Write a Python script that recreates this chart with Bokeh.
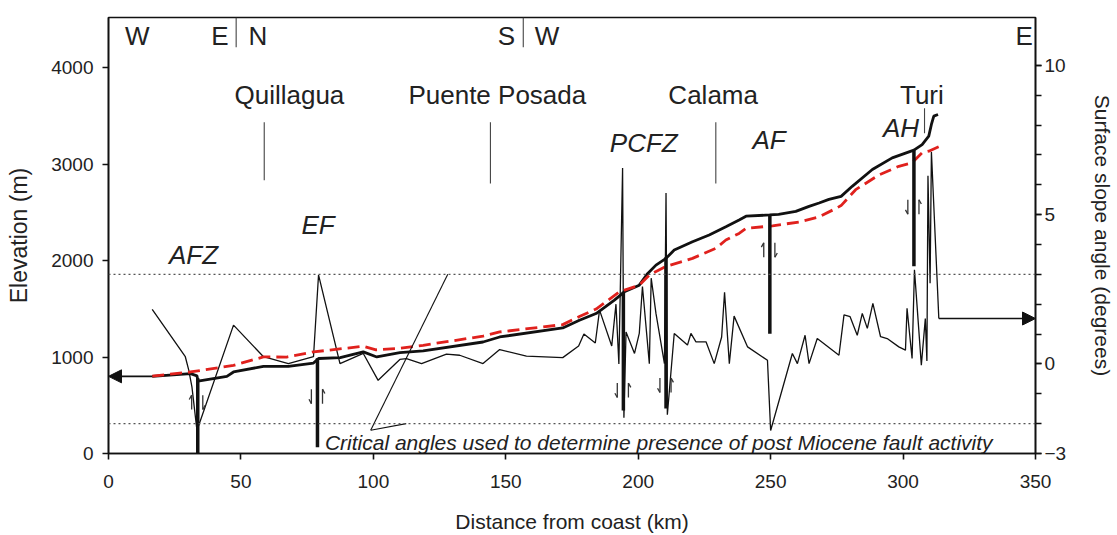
from bokeh.plotting import figure
from bokeh.models import Range1d, LinearAxis, FixedTicker, Span, Arrow, NormalHead
from bokeh.core.properties import value
from bokeh.embed import file_html
from bokeh.resources import INLINE

FONT = "Liberation Sans"

# ---------------- data ----------------
# elevation profile (black, left axis)
dist_elev = [16.5, 31.0, 33.4, 33.8, 44.7, 47.2, 58.5, 67.9, 77.4, 79.3, 87.5, 96.2, 101.3,
             110.0, 118.8, 141.4, 147.7, 171.5, 177.8, 184.1, 191.0, 194.8, 200.4, 203.6,
             206.7, 210.5, 213.6, 220.5, 226.8, 233.1, 238.1, 240.7, 249.6, 253.0, 259.5,
             264.5, 268.3, 272.0, 276.6, 280.8, 288.4, 295.9, 304.1, 307.2, 309.7, 310.7,
             311.6, 313.2]
elev = [800, 828, 805, 750, 800, 845, 904, 904, 938, 985, 994, 1053, 1001,
        1045, 1063, 1156, 1208, 1302, 1382, 1451, 1590, 1676, 1745, 1867,
        1953, 2023, 2109, 2195, 2265, 2351, 2421, 2460, 2473, 2480, 2510,
        2562, 2597, 2634, 2666, 2770, 2944, 3065, 3145, 3203, 3290, 3411,
        3498, 3515]

# smoothed profile (red dashed, left axis)
dist_smooth = [16.5, 30.9, 47.2, 58.5, 67.3, 77.4, 96.2, 101.0, 110.0, 118.8, 141.4, 147.7,
               171.5, 177.8, 184.1, 192.9, 200.4, 204.2, 210.5, 220.5, 229.3, 233.1, 238.1,
               240.7, 250.7, 260.7, 268.0, 274.6, 276.6, 282.1, 290.9, 298.4, 303.4, 307.2,
               309.7, 313.5]
elev_smooth = [803, 845, 914, 1001, 1000, 1053, 1112, 1075, 1090, 1122, 1216, 1260,
               1336, 1420, 1498, 1676, 1745, 1850, 1940, 2023, 2127, 2213, 2282,
               2334, 2360, 2400, 2450, 2540, 2570, 2735, 2888, 2977, 3014, 3117,
               3134, 3180]

# surface slope angle (thin black, right axis)
dist_slope = [16.5, 29.0, 30.3, 31.5, 33.4, 47.2, 58.5, 67.9, 77.4, 79.3, 87.4, 96.2, 101.8,
              110.0, 112.5, 118.2, 127.6, 132.6, 141.4, 147.7, 157.8, 171.5, 177.5, 179.5,
              183.8, 185.4, 190.0, 191.6, 192.7, 194.1, 194.6, 195.4, 198.6, 200.4, 201.6,
              204.2, 204.9, 206.7, 209.9, 210.5, 211.0, 213.6, 218.6, 219.9, 221.8, 225.6,
              228.7, 231.5, 232.6, 234.4, 236.2, 241.3, 248.8, 250.0, 258.2, 260.1, 263.0,
              264.5, 267.6, 275.8, 277.7, 280.0, 282.7, 284.6, 286.5, 288.6, 291.5, 294.0,
              298.4, 300.9, 301.5, 303.4, 304.3, 306.9, 308.4, 309.0, 309.4, 310.2, 310.7,
              313.5]
slope_deg = [1.83, 0.24, -0.21, -0.77, -2.23, 1.30, 0.24, 0.01, 0.24, 2.98, 0.01, 0.35, -0.55,
             0.15, 0.18, 0.01, 0.33, 0.29, 0.01, 0.48, 0.26, 0.21, 0.60, 1.00,
             0.70, 1.80, 0.60, 2.00, 0.00, 6.56, -1.80, 1.07, 0.35, 1.02, 2.59,
             0.01, 2.87, 1.69, 0.01, 5.72, -1.70, 1.02, 0.63, 1.02, 0.74, 0.74,
             0.01, 0.90, 2.40, 0.01, 1.60, 0.57, 0.12, -2.23, 0.35, 0.01, 0.96,
             0.01, 0.85, 0.29, 1.64, 1.58, 0.96, 1.69, 1.19, 2.03, 0.91, 0.85,
             0.57, 0.46, 1.86, 0.18, 3.15, -0.04, 1.52, 0.10, 6.30, 2.70, 7.10,
             1.52]

# faults
fault_names = ["AFZ", "EF", "PCFZ", "AF", "AH"]
fault_label_km = [32.1, 79.1, 202.1, 249.4, 299.2]
fault_label_elev = [2054, 2365, 3216, 3247, 3371]
fault_km = [33.7, 78.9, 194.4, 210.5, 249.7, 304.1]
fault_top = [780, 987, 1676, 2035, 2473, 3145]
fault_bottom = [0, 66, 447, 467, 1241, 1940]
fault_arrow_elev = [530, 592, 655, 707, 2109, 2556]
fault_left_up = [True, False, False, False, True, False]

# localities
places = ["Quillagua", "Puente Posada", "Calama", "Turi"]
place_label_km = [68.3, 146.8, 228.3, 307.1]
place_line_km = [58.8, 144.2, 229.3, 308.1]
place_line_top = [3434, 3434, 3434, 3580]
place_line_bottom = [2832, 2800, 2800, 3320]
place_label_elev = 3714

# direction letters along the top
dir_letters = ["W", "E", "N", "S", "W", "E"]
dir_km = [10.9, 42.1, 56.4, 150.2, 165.6, 345.7]
dir_elev = 4326
dir_sep_km = [48.2, 156.6]
dir_sep_top = 4520
dir_sep_bottom = 4212

# critical angles (degrees) and the callout
crit_angles = [3, -2]
callout_vertex = (99.0, -2.22)
callout_ends_km = [128.1, 112.4]
callout_text = "Critical angles used to determine presence of post Miocene fault activity"
callout_text_pos = (81.7, -2.62)

# axis arrows (series -> its axis)
elev_arrow = (16.5, 0.0, 800)      # from km, to km, elevation
slope_arrow = (313.5, 350.0, 1.52)  # from km, to km, degrees

x_ticks = [0, 50, 100, 150, 200, 250, 300, 350]
elev_ticks = [0, 1000, 2000, 3000, 4000]
slope_major = [-3, 0, 5, 10]
slope_minor = list(range(-3, 11))

# ---------------- figure ----------------
p = figure(width=1117, height=535, x_range=Range1d(0, 350), y_range=Range1d(0, 4520),
           output_backend="svg", toolbar_location=None,
           min_border_left=108, min_border_right=79, min_border_top=17, min_border_bottom=82,
           background_fill_color="white", border_fill_color="white")
p.extra_y_ranges = {"slope": Range1d(-3, 11.6)}
p.xgrid.visible = False
p.ygrid.visible = False
p.outline_line_color = "#111111"
p.outline_line_width = 1.6


def style_axis(ax, label_size):
    ax.axis_line_color = "#111111"
    ax.axis_line_width = 1.6
    ax.major_tick_line_color = "#111111"
    ax.major_tick_line_width = 1.6
    ax.major_tick_out = 6
    ax.major_tick_in = 0
    ax.minor_tick_line_color = None
    ax.major_label_text_font = FONT
    ax.major_label_text_font_size = "19px"
    ax.major_label_text_color = "#222222"
    ax.axis_label_text_font = FONT
    ax.axis_label_text_font_size = label_size
    ax.axis_label_text_font_style = "normal"
    ax.axis_label_text_color = "#222222"


xa = p.xaxis[0]
style_axis(xa, "21px")
xa.ticker = FixedTicker(ticks=x_ticks)
xa.axis_label = "Distance from coast (km)"
xa.major_label_standoff = 15
xa.axis_label_standoff = 19

ya = p.yaxis[0]
style_axis(ya, "23px")
ya.ticker = FixedTicker(ticks=elev_ticks)
ya.axis_label = "Elevation (m)"
ya.major_label_standoff = 9
ya.axis_label_standoff = 16

ra = LinearAxis(y_range_name="slope")
style_axis(ra, "21px")
ra.ticker = FixedTicker(ticks=slope_major, minor_ticks=slope_minor)
ra.minor_tick_line_color = "#111111"
ra.minor_tick_line_width = 1.6
ra.minor_tick_out = 6
ra.minor_tick_in = 0
ra.axis_label = "Surface slope angle (degrees)"
ra.major_label_standoff = 3
ra.axis_label_standoff = 22
p.add_layout(ra, "right")

# critical angle dotted lines
for a in crit_angles:
    p.add_layout(Span(location=a, dimension="width", y_range_name="slope",
                      line_color="#555555", line_width=1.2, line_dash="2 3"))

# slope curve
p.line(dist_slope, slope_deg, y_range_name="slope", line_color="#111111", line_width=1.3)

# smoothed (red dashed) and profile (black)
p.line(dist_elev, elev, line_color="#111111", line_width=2.8)
p.line(dist_smooth, elev_smooth, line_color="#e0211d", line_width=2.8, line_dash="12 6")

# faults
p.segment(x0=fault_km, y0=fault_bottom, x1=fault_km, y1=fault_top,
          line_color="#111111", line_width=3.5)

# half arrows next to faults
half = 75
dx_off_left, dx_off_right = -2.3, 1.9
barb_dx, barb_dy = 0.9, 45
xs, ys = [], []
for fk, fc, lu in zip(fault_km, fault_arrow_elev, fault_left_up):
    for off, up, side in ((dx_off_left, lu, -1), (dx_off_right, not lu, 1)):
        x = fk + off
        y0, y1 = fc - half, fc + half
        xs.append([x, x])
        ys.append([y0, y1])
        if up:
            xs.append([x, x + side * barb_dx])
            ys.append([y1, y1 - barb_dy])
        else:
            xs.append([x, x + side * barb_dx])
            ys.append([y0, y0 + barb_dy])
p.multi_line(xs, ys, line_color="#333333", line_width=1.3)

# locality markers
p.segment(x0=place_line_km, y0=place_line_bottom, x1=place_line_km, y1=place_line_top,
          line_color="#444444", line_width=1.1)
p.text(x=place_label_km, y=[place_label_elev] * len(places), text=places,
       text_font=value(FONT), text_font_size="26px", text_color="#222222",
       text_align="center", text_baseline="middle")

# direction letters and separators
p.text(x=dir_km, y=[dir_elev] * len(dir_letters), text=dir_letters,
       text_font=value(FONT), text_font_size="26px", text_color="#222222",
       text_align="center", text_baseline="middle")
p.segment(x0=dir_sep_km, y0=[dir_sep_bottom] * 2, x1=dir_sep_km, y1=[dir_sep_top] * 2,
          line_color="#444444", line_width=1.1)

# fault labels
p.text(x=fault_label_km, y=fault_label_elev, text=fault_names,
       text_font=value(FONT), text_font_size="26px", text_font_style="italic",
       text_color="#222222", text_align="center", text_baseline="middle")

# callout lines and text
p.segment(x0=[callout_vertex[0]] * 2, y0=[callout_vertex[1]] * 2,
          x1=callout_ends_km, y1=crit_angles, y_range_name="slope",
          line_color="#111111", line_width=1.1)
p.text(x=[callout_text_pos[0]], y=[callout_text_pos[1]], text=[callout_text],
       y_range_name="slope", text_font=value(FONT), text_font_size="21px",
       text_font_style="italic", text_color="#222222", text_align="left",
       text_baseline="middle")

# arrows to axes
p.add_layout(Arrow(end=NormalHead(size=13, fill_color="#111111", line_color="#111111"),
                   x_start=elev_arrow[0], y_start=elev_arrow[2],
                   x_end=elev_arrow[1], y_end=elev_arrow[2],
                   line_color="#111111", line_width=1.6))
p.add_layout(Arrow(end=NormalHead(size=13, fill_color="#111111", line_color="#111111"),
                   x_start=slope_arrow[0], y_start=slope_arrow[2],
                   x_end=slope_arrow[1], y_end=slope_arrow[2], y_range_name="slope",
                   line_color="#111111", line_width=1.6))

open("out.html", "w").write(file_html(p, INLINE))
